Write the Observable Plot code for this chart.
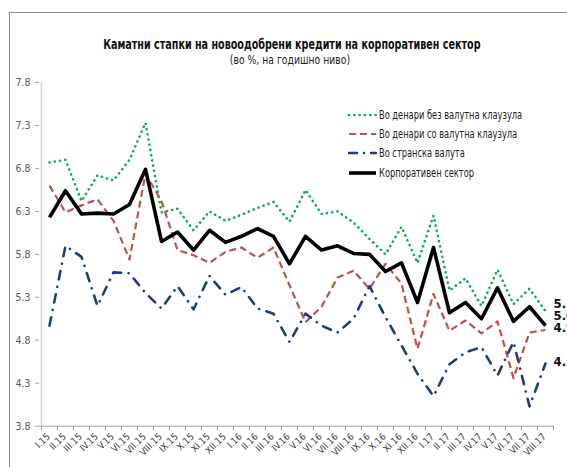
<!DOCTYPE html>
<html>
<head>
<meta charset="utf-8">
<script src="https://cdn.jsdelivr.net/npm/d3@7"></script>
<script src="https://cdn.jsdelivr.net/npm/@observablehq/plot@0.6"></script>
<style>
  html, body { margin: 0; padding: 0; background: #fff; overflow: hidden; }
  #wrap { position: relative; width: 567px; height: 467px; overflow: hidden; background: #fff;
          font-family: "Liberation Sans Narrow", "Arial Narrow", "DejaVu Sans Condensed", sans-serif; }
  #frame { position: absolute; left: 9px; top: 12px; width: 700px; height: 700px; border: 1px solid #8c8c8c; }
  #title { position: absolute; left: 0; width: 584px; top: 36px; text-align: center; font-weight: bold; font-size: 13.5px; line-height: 16px; color: #111; white-space: nowrap; }
  #title span { display: inline-block; transform: scaleX(0.79); transform-origin: center; }
  #sub { position: absolute; left: 0; width: 580px; top: 53px; text-align: center; font-size: 12px; line-height: 14px; color: #222; white-space: nowrap; }
  #sub span { display: inline-block; transform: scaleX(0.86); transform-origin: center; }
  #chart { position: absolute; left: 0; top: 70px; }
  #legend { position: absolute; left: 348px; top: 105px; font-size: 11.5px; color: #222; white-space: nowrap; }
  #legend .row { display: flex; align-items: center; height: 19.3px; }
  #legend svg { width: 29px; height: 8px; margin-right: 2px; flex: none; }
  #legend span { display: inline-block; transform: scaleX(0.8); transform-origin: left center; }
</style>
</head>
<body>
<div id="wrap">
  <div id="frame"></div>
  <div id="title"><span>Каматни стапки на новоодобрени кредити на корпоративен сектор</span></div>
  <div id="sub"><span>(во %, на годишно ниво)</span></div>
  <div id="chart"></div>
  <div id="legend"></div>
</div>
<script>
// ---- data ----
const months = ["I.15","II.15","III.15","IV.15","V.15","VI.15","VII.15","VIII.15","IX.15","X.15","XI.15","XII.15",
                "I.16","II.16","III.16","IV.16","V.16","VI.16","VII.16","VIII.16","IX.16","X.16","XI.16","XII.16",
                "I.17","II.17","III.17","IV.17","V.17","VI.17","VII.17","VIII.17"];
const seriesNames = ["Во денари без валутна клаузула","Во денари со валутна клаузула","Во странска валута","Корпоративен сектор"];
const denarNoClause = [6.87,6.90,6.42,6.72,6.66,6.90,7.33,6.29,6.33,6.08,6.30,6.19,6.26,6.34,6.41,6.18,6.55,6.27,6.30,6.17,5.98,5.80,6.12,5.70,6.25,5.38,5.52,5.20,5.62,5.22,5.40,5.14];
const denarClause   = [6.60,6.29,6.37,6.44,6.19,5.74,6.74,6.42,5.85,5.79,5.70,5.83,5.88,5.76,5.88,5.44,5.01,5.19,5.53,5.61,5.40,5.69,5.46,4.70,5.34,4.91,5.03,4.88,5.02,4.36,4.89,4.92];
const foreignCurr   = [4.97,5.90,5.77,5.20,5.59,5.58,5.35,5.17,5.43,5.16,5.55,5.33,5.42,5.17,5.11,4.78,5.11,4.97,4.89,5.05,5.43,5.07,4.74,4.41,4.15,4.52,4.66,4.72,4.39,4.78,4.03,4.53];
const corporate     = [6.23,6.54,6.27,6.28,6.27,6.38,6.79,5.95,6.06,5.85,6.08,5.94,6.01,6.10,6.01,5.69,6.01,5.85,5.90,5.81,5.80,5.60,5.70,5.24,5.88,5.12,5.24,5.05,5.41,5.02,5.19,4.97];
const yTicks = [3.8,4.3,4.8,5.3,5.8,6.3,6.8,7.3,7.8];

// ---- styles ----
const styles = [
  {key: "g", stroke: "#00b050", strokeWidth: 2.6, strokeDasharray: "0.1 5.2", strokeLinecap: "round", labelDy: -7.5},
  {key: "r", stroke: "#c0504d", strokeWidth: 2.2, strokeDasharray: "7 4", strokeLinecap: "butt", labelDy: -2.5},
  {key: "b", stroke: "#1f3d7a", strokeWidth: 2.6, strokeDasharray: "8.5 7.5 0.1 7.5", strokeLinecap: "round", labelDy: -1.5},
  {key: "k", stroke: "#000000", strokeWidth: 3.6, strokeDasharray: null, strokeLinecap: "butt", labelDy: -10}
];

const rows = months.map((m, i) => ({m, g: denarNoClause[i], r: denarClause[i], b: foreignCurr[i], k: corporate[i]}));
const last = rows[rows.length - 1];

const W = 567, H = 397, mL = 39, mR = 13, mT = 12, mB = 41.3;
const step = (W - mL - mR) / months.length;

const lineMarks = styles.map(s => Plot.line(rows, {
  x: "m", y: s.key, stroke: s.stroke, strokeWidth: s.strokeWidth,
  strokeDasharray: s.strokeDasharray || undefined, strokeLinecap: s.strokeLinecap, strokeLinejoin: "round"
}));
const endLabels = styles.map(s => Plot.text([last], {
  x: "m", y: s.key, text: d => d[s.key].toFixed(1), dx: 8, dy: s.labelDy,
  textAnchor: "start", fontWeight: "bold", fontSize: 13, fill: "#111"
}));

const chart = Plot.plot({
  width: W, height: H, marginLeft: mL, marginRight: mR, marginTop: mT, marginBottom: mB,
  style: {background: "transparent", overflow: "visible", fontFamily: "'Liberation Sans Narrow','Arial Narrow','DejaVu Sans Condensed',sans-serif"},
  x: {type: "point", domain: months, padding: 0.5, axis: null},
  y: {domain: [3.8, 7.8], axis: null},
  marks: [
    Plot.ruleX([months[0]], {y1: 3.8, y2: 7.8, dx: -step / 2, stroke: "#d4d4d4", strokeWidth: 1.5}),
    Plot.axisY({ticks: yTicks, tickFormat: d => d.toFixed(1), tickSize: 4, tickPadding: 5, stroke: "#a6a6a6", fill: "#595959", fontSize: 10.5, label: null}),
    Plot.ruleY([3.8], {stroke: "#a6a6a6"}),
    Plot.ruleX(months, {y1: 3.8, y2: 3.8 - 5 / 85.9, dx: -step / 2, stroke: "#a6a6a6"}),
    Plot.ruleX([months[months.length - 1]], {y1: 3.8, y2: 3.8 - 5 / 85.9, dx: step / 2, stroke: "#a6a6a6"}),
    Plot.text(months, {x: d => d, frameAnchor: "bottom", text: d => d, rotate: -45, textAnchor: "end", dx: 1, dy: 11, fontSize: 9.5, fill: "#404040"}),
    ...lineMarks,
    ...endLabels
  ]
});
document.getElementById("chart").appendChild(chart);

// ---- legend ----
const legend = document.getElementById("legend");
styles.forEach((s, i) => {
  const row = document.createElement("div");
  row.className = "row";
  const dash = s.strokeDasharray ? `stroke-dasharray="${s.key === 'b' ? '8 7 0.1 7' : s.strokeDasharray}"` : "";
  row.innerHTML = `<svg viewBox="0 0 29 8"><line x1="1" y1="4" x2="28" y2="4" stroke="${s.stroke}" stroke-width="${s.strokeWidth}" stroke-linecap="${s.strokeLinecap}" ${dash}/></svg><span>${seriesNames[i]}</span>`;
  legend.appendChild(row);
});
</script>
</body>
</html>
